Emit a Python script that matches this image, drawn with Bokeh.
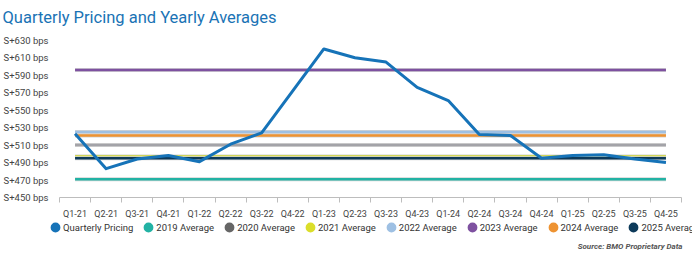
import numpy as np
from bokeh.plotting import figure
from bokeh.models import (FixedTicker, Range1d, Legend, LegendItem, Label,
                          ColumnDataSource)
from bokeh.layouts import column
from bokeh.embed import file_html
from bokeh.resources import INLINE

# ---------------- data ----------------
quarters = ["Q1-21", "Q2-21", "Q3-21", "Q4-21", "Q1-22", "Q2-22", "Q3-22", "Q4-22",
            "Q1-23", "Q2-23", "Q3-23", "Q4-23", "Q1-24", "Q2-24", "Q3-24", "Q4-24",
            "Q1-25", "Q2-25", "Q3-25", "Q4-25"]
pricing = [523, 483, 494, 498, 491, 511, 524, 572,
           620, 610, 605, 576, 561, 522, 521, 495,
           498, 499, 494, 490]
avg_names = ["2019 Average", "2020 Average", "2021 Average", "2022 Average",
             "2023 Average", "2024 Average", "2025 Average"]
avg_values = [471, 510, 497, 525, 596, 521, 495]
y_ticks = [450, 470, 490, 510, 530, 550, 570, 590, 610, 630]

# ---------------- style ----------------
FONT = "Roboto"
price_color = "#1673b8"
avg_colors = ["#22b2a4", "#a3a3a8", "#cfd72c", "#9ec0e3", "#7e51a0", "#ee9332", "#0d3a5a"]
legend_colors = ["#22b2a4", "#666666", "#dbde2a", "#9ec0e3", "#7e51a0", "#ee9332", "#0d3a5a"]

xpos = [i + 0.5 for i in range(len(quarters))]

p = figure(width=692, height=222, output_backend="svg", toolbar_location=None,
           x_range=Range1d(0, len(quarters)), y_range=Range1d(450, 640),
           min_border_left=55, min_border_right=11, min_border_top=31,
           min_border_bottom=25)
p.outline_line_color = None
p.grid.grid_line_color = None

# title
p.title.text = "Quarterly Pricing and Yearly Averages"
p.title.text_font = FONT
p.title.text_font_size = "16.5px"
p.title.text_font_style = "normal"
p.title.text_color = "#1a73b5"
p.title.align = "left"
p.title.offset = -57
p.title.standoff = 10

# x axis
p.xaxis.ticker = FixedTicker(ticks=xpos, minor_ticks=list(range(len(quarters) + 1)))
p.xaxis.major_label_overrides = {x: q for x, q in zip(xpos, quarters)}
p.xaxis.major_tick_out = 0
p.xaxis.major_tick_in = 0
p.xaxis.minor_tick_out = 5
p.xaxis.minor_tick_in = 0
p.xaxis.minor_tick_line_color = "#bdbdbd"
p.xaxis.axis_line_color = "#bdbdbd"
p.xaxis.major_label_standoff = 6
p.xaxis.major_label_text_font = FONT
p.xaxis.major_label_text_font_size = "9px"
p.xaxis.major_label_text_color = "#444444"

# y axis
p.yaxis.ticker = FixedTicker(ticks=y_ticks)
p.yaxis.major_label_overrides = {v: f"S+{v} bps" for v in y_ticks}
p.yaxis.axis_line_color = None
p.yaxis.major_tick_line_color = None
p.yaxis.minor_tick_line_color = None
p.yaxis.major_label_standoff = 5
p.yaxis.major_label_text_font = FONT
p.yaxis.major_label_text_font_size = "9.5px"
p.yaxis.major_label_text_color = "#444444"

# average lines
x_ends = [xpos[0], xpos[-1]]
for name, v, c in zip(avg_names, avg_values, avg_colors):
    p.line(x_ends, [v, v], line_color="#d4d4d4", line_width=4)
    p.line(x_ends, [v, v], line_color=c, line_width=2.5)

# pricing line
p.line(xpos, pricing, line_color=price_color, line_width=3, line_join="round")

# ---------------- legend strip ----------------
leg = figure(width=692, height=31, output_backend="svg", toolbar_location=None,
             x_axis_type=None, y_axis_type=None, min_border=0,
             min_border_left=0, min_border_right=0, min_border_top=0,
             min_border_bottom=0,
             x_range=Range1d(0, 1), y_range=Range1d(0, 1))
leg.outline_line_color = None
leg.grid.grid_line_color = None

for fig in (p, leg):
    try:
        fig.frame_align = False
    except Exception:
        pass

items = []
names = ["Quarterly Pricing"] + avg_names
cols = [price_color] + legend_colors
for n, c in zip(names, cols):
    src_nan = ColumnDataSource(data=dict(x=np.array([np.nan]), y=np.array([np.nan])))
    r = leg.scatter("x", "y", source=src_nan, marker="circle", size=5,
                    fill_color=c, line_color=c, line_width=5)
    items.append(LegendItem(label=n, renderers=[r]))
legend = Legend(items=items, orientation="horizontal", location=(49, 20),
                padding=0, margin=0, spacing=9, label_standoff=2,
                glyph_width=12, glyph_height=12, label_height=12,
                label_text_font=FONT, label_text_font_size="9.5px",
                label_text_color="#333333", background_fill_alpha=0,
                border_line_color=None)
leg.add_layout(legend, "center")

src = Label(x=682, y=7, x_units="screen", y_units="screen",
            text="Source: BMO Proprietary Data", text_font=FONT,
            text_font_size="8px", text_font_style="bold italic",
            text_color="#555555", text_align="right", text_baseline="alphabetic")
leg.add_layout(src)

open("out.html", "w").write(file_html(column(p, leg, spacing=0), INLINE))
